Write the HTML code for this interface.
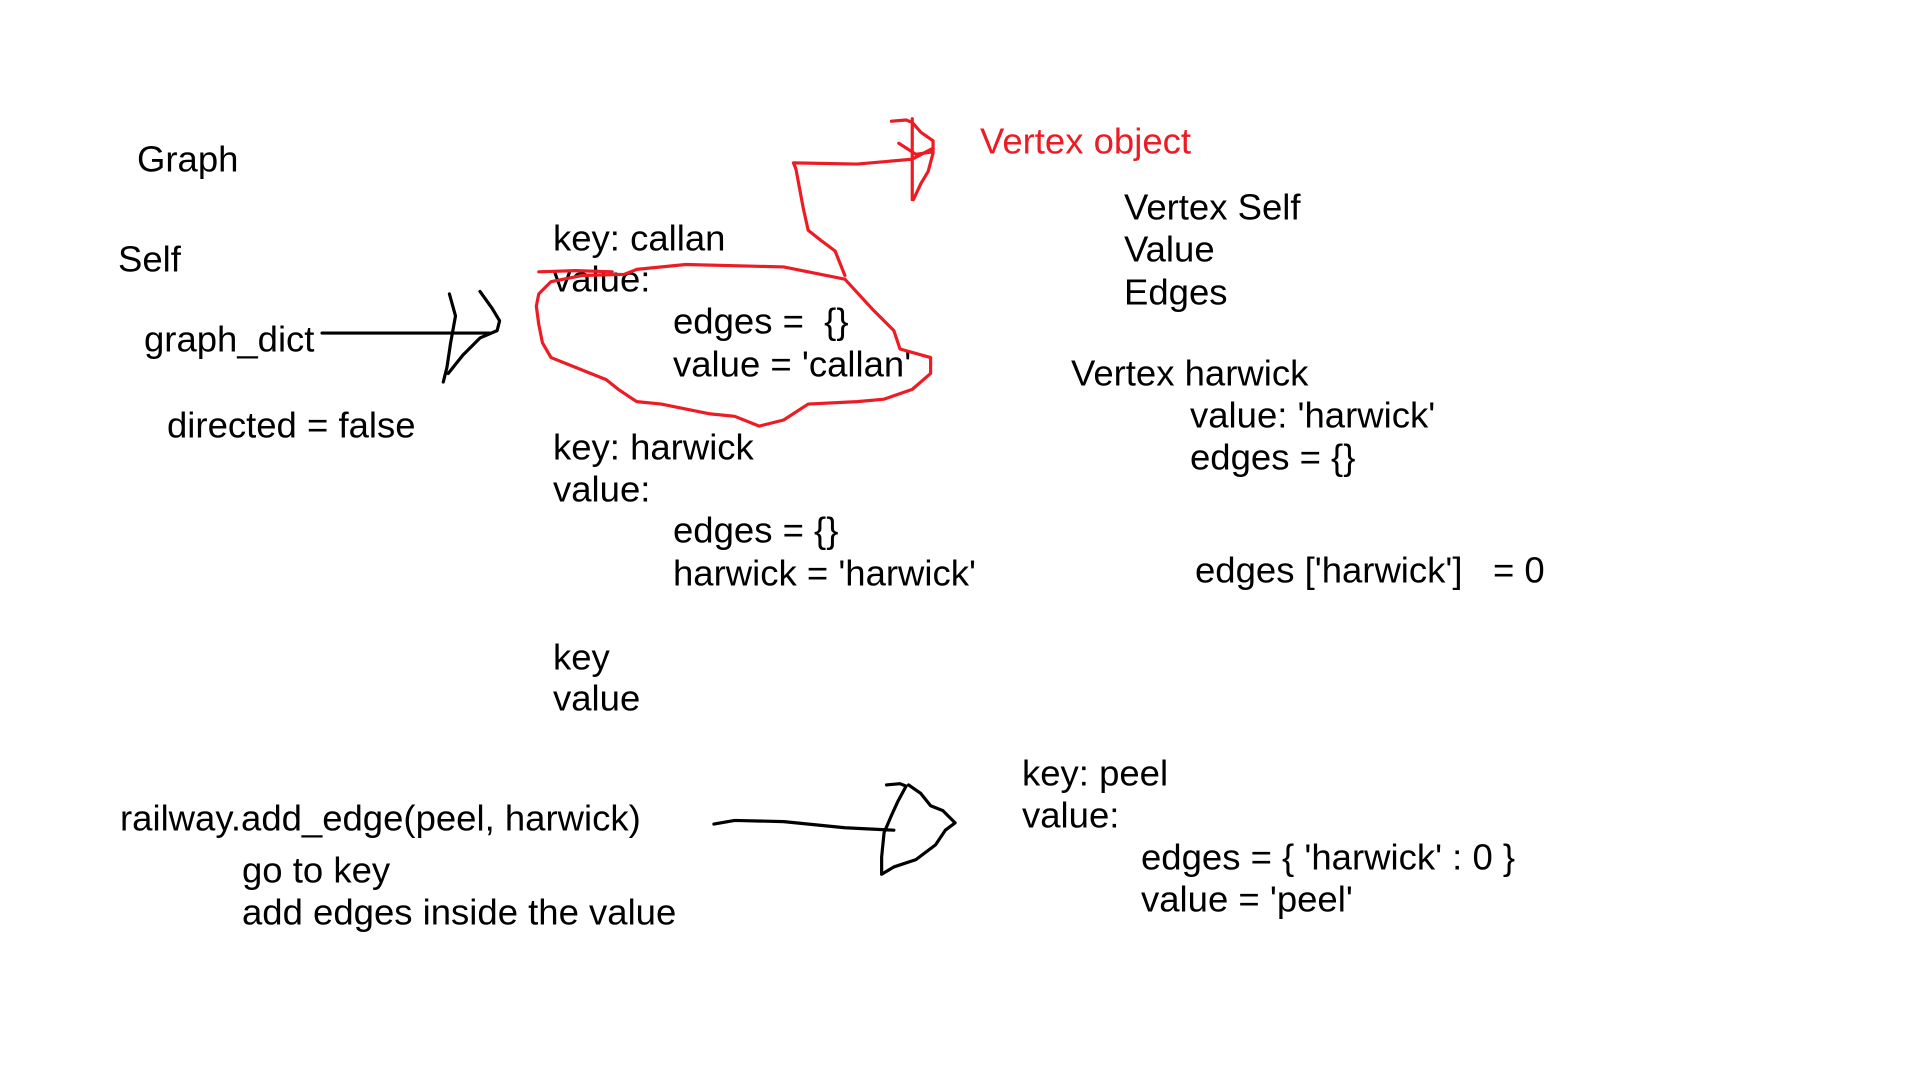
<!DOCTYPE html>
<html><head><meta charset="utf-8"><style>
html,body{margin:0;padding:0;background:#fff;width:1920px;height:1080px;overflow:hidden;position:relative}
.t{position:absolute;font-family:"Liberation Sans",Arial,sans-serif;font-size:36.5px;line-height:42px;color:#000;white-space:pre;transform:translateY(1.5px)}
.r{color:#ed1c24}
svg{position:absolute;left:0;top:0}
</style></head><body>
<div class="t" style="left:137px;top:137px">Graph</div>
<div class="t" style="left:118px;top:237px">Self</div>
<div class="t" style="left:144px;top:317px">graph_dict</div>
<div class="t" style="left:167px;top:403px">directed = false</div>

<div class="t" style="left:553px;top:216px">key: callan</div>
<div class="t" style="left:553px;top:257px">value:</div>
<div class="t" style="left:673px;top:299px">edges =  {}</div>
<div class="t" style="left:673px;top:342px">value = 'callan'</div>
<div class="t" style="left:553px;top:425px">key: harwick</div>
<div class="t" style="left:553px;top:467px">value:</div>
<div class="t" style="left:673px;top:508px">edges = {}</div>
<div class="t" style="left:673px;top:551px">harwick = 'harwick'</div>
<div class="t" style="left:553px;top:635px">key</div>
<div class="t" style="left:553px;top:676px">value</div>

<div class="t" style="left:120px;top:796px">railway.add_edge(peel, harwick)</div>
<div class="t" style="left:242px;top:848px">go to key</div>
<div class="t" style="left:242px;top:890px">add edges inside the value</div>

<div class="t" style="left:1022px;top:751px">key: peel</div>
<div class="t" style="left:1022px;top:793px">value:</div>
<div class="t" style="left:1141px;top:835px">edges = { 'harwick' : 0 }</div>
<div class="t" style="left:1141px;top:877px">value = 'peel'</div>

<div class="t r" style="left:980px;top:119px">Vertex object</div>
<div class="t" style="left:1124px;top:185px">Vertex Self</div>
<div class="t" style="left:1124px;top:227px">Value</div>
<div class="t" style="left:1124px;top:270px">Edges</div>
<div class="t" style="left:1071px;top:351px">Vertex harwick</div>
<div class="t" style="left:1190px;top:393px">value: 'harwick'</div>
<div class="t" style="left:1190px;top:435px">edges = {}</div>
<div class="t" style="left:1195px;top:548px">edges ['harwick']   = 0</div>

<svg width="1920" height="1080" viewBox="0 0 1568 882" fill="none" stroke-linecap="round" stroke-linejoin="round">
<g stroke="#000" stroke-width="2.6">
<path d="M263 272 L400 272"/>
<path d="M367 240 L372 258 L368 280 L365 300 L362 312"/>
<path d="M392 238 L402 252 L408 262 L406 270 L392 276 L378 290 L366 305"/>
<path d="M583 673 L600 670 L640 671 L690 676 L730 678"/>
<path d="M724 641 L735 640 L740 642 L733 655 L728 666 L722 680 L720 700 L720 714 L730 708 L748 702 L764 690 L772 678 L780 672 L770 662 L760 658 L752 648 L742 641"/>
</g>
<g stroke="#ed1c24" stroke-width="2.6">
<path d="M440 240 L450 230 L475 225 L510 224 L520 220 L560 216 L640 218 L690 228 L712 252 L730 270 L735 285 L760 292 L760 305 L745 318 L722 326 L700 328 L660 330 L640 343 L620 348 L600 340 L580 338 L540 330 L520 328 L505 318 L495 310 L470 300 L450 292 L443 280 L440 265 L438 250 Z"/>
<path d="M440 222 L470 221 L500 222"/>
<path d="M690 225 L682 205 L670 196 L660 188 L656 170 L650 138 L648 133 L700 134 L745 130 L762 121"/>
<path d="M745 97 L745 163"/>
<path d="M728 99 L740 98 L745 100 L752 108 L762 115 L762 125 L758 140 L752 150 L746 163"/>
<path d="M734 117 L748 126 L762 124"/>
</g>
</svg>
</body></html>
